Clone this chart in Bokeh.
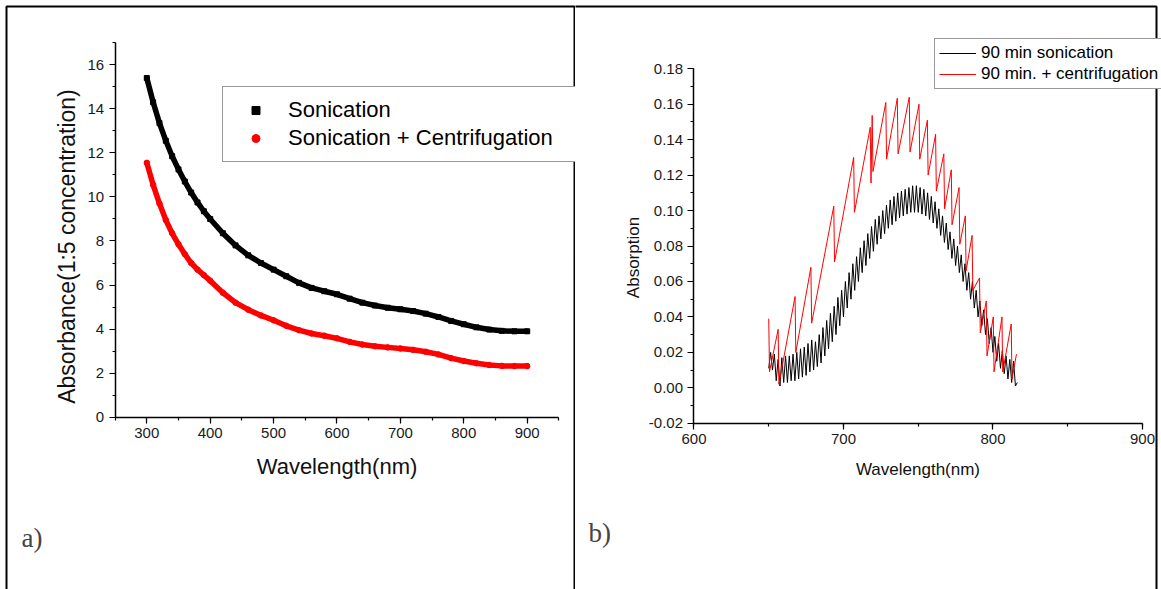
import math
from bokeh.plotting import figure
from bokeh.models import (Legend, LegendItem, Label, BoxAnnotation, SingleIntervalTicker,
                          Range1d, NumeralTickFormatter, LinearAxis)
from bokeh.layouts import row
from bokeh.embed import file_html
from bokeh.resources import INLINE

# ---------------- Panel a data ----------------
wl_a = [300, 310, 320, 330, 340, 350, 360, 370, 380, 390, 400, 420, 440, 460, 480, 500,
        520, 540, 560, 580, 600, 620, 640, 660, 680, 700, 720, 740, 760, 780, 800, 820,
        840, 860, 880, 900]
abs_sonication = [15.4, 14.3, 13.35, 12.55, 11.85, 11.25, 10.7, 10.2, 9.75, 9.35, 9.0, 8.35,
                  7.8, 7.35, 7.0, 6.7, 6.4, 6.1, 5.87, 5.72, 5.58, 5.38, 5.2, 5.07, 4.97,
                  4.9, 4.82, 4.7, 4.55, 4.37, 4.22, 4.08, 3.98, 3.92, 3.9, 3.9]
abs_sonic_centrif = [11.55, 10.55, 9.7, 8.95, 8.35, 7.85, 7.4, 7.0, 6.7, 6.45, 6.2, 5.65,
                     5.2, 4.88, 4.62, 4.4, 4.15, 3.95, 3.8, 3.7, 3.58, 3.42, 3.3, 3.22, 3.17,
                     3.12, 3.06, 2.97, 2.85, 2.68, 2.55, 2.45, 2.37, 2.33, 2.32, 2.32]

# ---------------- Panel b data ----------------
# 90 min sonication: alternating peak / trough readings, 1.25 nm apart
wl_b_start = 650.0
wl_b_step = 1.25
absn_90 = [0.011, 0.020, 0.010, 0.019, 0.004, 0.016, 0.001, 0.017, 0.003, 0.018, 0.003,
           0.018, 0.004, 0.019, 0.004, 0.020, 0.005, 0.022, 0.006, 0.023, 0.007, 0.025,
           0.009, 0.027, 0.010, 0.026, 0.012, 0.030, 0.014, 0.034, 0.018, 0.038, 0.022,
           0.042, 0.026, 0.046, 0.030, 0.051, 0.035, 0.055, 0.040, 0.060, 0.045, 0.065,
           0.050, 0.070, 0.055, 0.074, 0.060, 0.079, 0.065, 0.083, 0.069, 0.087, 0.073,
           0.091, 0.077, 0.095, 0.081, 0.097, 0.084, 0.100, 0.087, 0.103, 0.090, 0.106,
           0.092, 0.108, 0.094, 0.110, 0.096, 0.111, 0.097, 0.112, 0.098, 0.113, 0.099,
           0.114, 0.099, 0.114, 0.099, 0.113, 0.098, 0.112, 0.097, 0.110, 0.095, 0.108,
           0.093, 0.105, 0.090, 0.101, 0.086, 0.097, 0.082, 0.093, 0.078, 0.088, 0.073,
           0.084, 0.069, 0.080, 0.065, 0.075, 0.060, 0.070, 0.055, 0.065, 0.050, 0.060,
           0.045, 0.055, 0.040, 0.049, 0.035, 0.044, 0.030, 0.039, 0.025, 0.034, 0.020,
           0.029, 0.015, 0.025, 0.011, 0.021, 0.008, 0.018, 0.005, 0.016, 0.003, 0.015,
           0.001, 0.003]
wl_b_black = [wl_b_start + i * wl_b_step for i in range(len(absn_90))]

wl_b_red = [650.0, 650.5, 656.3, 656.8, 667.6, 668.1, 678.2, 678.7, 693.5, 694.0, 706.8,
            707.3, 717.9, 718.4, 719.2, 719.7, 728.3, 728.8, 736.0, 736.5, 744.0, 744.5,
            750.5, 751.0, 756.1, 756.6, 761.6, 762.1, 767.1, 767.6, 772.1, 772.6, 777.3,
            777.8, 781.5, 782.0, 786.0, 786.5, 791.0, 791.5, 795.5, 796.0, 800.2, 800.7,
            806.0, 806.5, 812.2, 812.7, 815.7]
absn_90_centrif = [0.039, 0.009, 0.033, 0.002, 0.0515, 0.020, 0.068, 0.0365, 0.1025, 0.071,
                   0.130, 0.099, 0.147, 0.1155, 0.1537, 0.122, 0.161, 0.129, 0.1634, 0.132,
                   0.164, 0.133, 0.160, 0.129, 0.151, 0.120, 0.143, 0.111, 0.132, 0.101,
                   0.123, 0.092, 0.113, 0.081, 0.097, 0.066, 0.086, 0.055, 0.062, 0.031,
                   0.049, 0.018, 0.040, 0.009, 0.040, 0.009, 0.036, 0.005, 0.019]

FONT = "Liberation Sans"
SERIF = "Liberation Serif"


def make_axis(fixed, bounds, interval, tick_size):
    ax = LinearAxis(fixed_location=fixed, bounds=bounds,
                    ticker=SingleIntervalTicker(interval=interval, num_minor_ticks=2))
    ax.axis_line_width = 1.5
    ax.axis_line_color = "black"
    ax.major_tick_line_color = "black"
    ax.minor_tick_line_color = "black"
    ax.major_tick_line_width = 1.2
    ax.minor_tick_line_width = 1.2
    ax.major_tick_out = 6
    ax.major_tick_in = 0
    ax.minor_tick_out = 3
    ax.minor_tick_in = 0
    ax.major_label_text_font = FONT
    ax.major_label_text_font_size = tick_size
    ax.major_label_text_color = "#1a1a1a"
    ax.major_label_standoff = 5
    ax.axis_label_text_font = FONT
    ax.axis_label_text_font_style = "normal"
    ax.axis_label_text_color = "#111111"
    return ax


def base_fig(w, xr, yr):
    p = figure(width=w, height=589, output_backend="svg", toolbar_location=None,
               x_range=Range1d(*xr), y_range=Range1d(*yr),
               x_axis_location=None, y_axis_location=None,
               min_border=0, min_border_left=0, min_border_right=0,
               min_border_top=0, min_border_bottom=0,
               background_fill_color="white", border_fill_color="white")
    p.grid.visible = False
    p.outline_line_color = None
    return p


def frame_box(left, right):
    return BoxAnnotation(left=left, right=right, top=6, bottom=620, left_units="canvas",
                         right_units="canvas", top_units="canvas", bottom_units="canvas",
                         fill_alpha=0, line_color="black", line_alpha=1.0, line_width=2,
                         level="overlay")


# ---------------- Panel a ----------------
pa = base_fig(575, (69.24, 976.2), (-7.823, 18.919))
xa = make_axis(0, (250, 950), 100, "15px")
xa.axis_label = "Wavelength(nm)"
xa.axis_label_text_font_size = "22px"
xa.axis_label_standoff = 12
ya = make_axis(250, (0, 17), 2, "15px")
pa.add_layout(xa, "below")
pa.add_layout(ya, "left")

pa.line(wl_a, abs_sonication, line_color="black", line_width=5.5, line_cap="round")
pa.line(wl_a, abs_sonic_centrif, line_color="red", line_width=5.5, line_cap="round")
ra1 = pa.scatter(wl_a, abs_sonication, marker="square", size=5, color="black")
ra2 = pa.scatter(wl_a, abs_sonic_centrif, marker="circle", size=5.5, color="red")

leg_a = Legend(items=[LegendItem(label="Sonication", renderers=[ra1]),
                      LegendItem(label="Sonication + Centrifugation", renderers=[ra2])],
               location=(222, 427), padding=10, spacing=2, label_height=20, glyph_height=20,
               glyph_width=45, label_standoff=10, label_width=300,
               label_text_font=FONT, label_text_font_size="22px", label_text_color="black",
               border_line_color="#333333", border_line_width=1.5,
               background_fill_alpha=1.0, margin=0)
pa.add_layout(leg_a, "center")

pa.add_layout(Label(x=66, y=246, x_units="canvas", y_units="canvas",
                    text="Absorbance(1:5 concentration)", angle=math.pi / 2,
                    text_align="center", text_baseline="alphabetic",
                    text_font=FONT, text_font_size="23px", text_color="#111111"))
pa.add_layout(Label(x=21, y=537, x_units="canvas", y_units="canvas", text="a)",
                    text_font=SERIF, text_font_size="27px", text_baseline="alphabetic"))
pa.add_layout(frame_box(6, 574))

# ---------------- Panel b ----------------
pb = base_fig(586, (520.74, 912.71), (-0.11381, 0.21854))
xb = make_axis(-0.02, (600, 900), 100, "15px")
xb.axis_label = "Wavelength(nm)"
xb.axis_label_text_font_size = "17px"
xb.axis_label_standoff = 12
yb = make_axis(600, (-0.02, 0.18), 0.02, "15px")
yb.formatter = NumeralTickFormatter(format="0.00")
pb.add_layout(xb, "below")
pb.add_layout(yb, "left")

rb1 = pb.line(wl_b_black, absn_90, line_color="black", line_width=1)
rb2 = pb.line(wl_b_red, absn_90_centrif, line_color="red", line_width=1)

leg_b = Legend(items=[LegendItem(label="90 min sonication", renderers=[rb1]),
                      LegendItem(label="90 min. + centrifugation", renderers=[rb2])],
               location=(359, 500), padding=4, spacing=1, label_height=20, glyph_height=20,
               glyph_width=37, label_standoff=5, label_width=220,
               label_text_font=FONT, label_text_font_size="17px", label_text_color="black",
               border_line_color="#333333", border_line_width=1.5,
               background_fill_alpha=1.0, margin=0)
pb.add_layout(leg_b, "center")

pb.add_layout(Label(x=58, y=257, x_units="canvas", y_units="canvas",
                    text="Absorption", angle=math.pi / 2,
                    text_align="center", text_baseline="alphabetic",
                    text_font=FONT, text_font_size="17px", text_color="#111111"))
pb.add_layout(Label(x=13, y=532, x_units="canvas", y_units="canvas", text="b)",
                    text_font=SERIF, text_font_size="27px", text_baseline="alphabetic"))
pb.add_layout(frame_box(-5, 581))

layout = row(pa, pb)
open("out.html", "w").write(file_html(layout, INLINE))
